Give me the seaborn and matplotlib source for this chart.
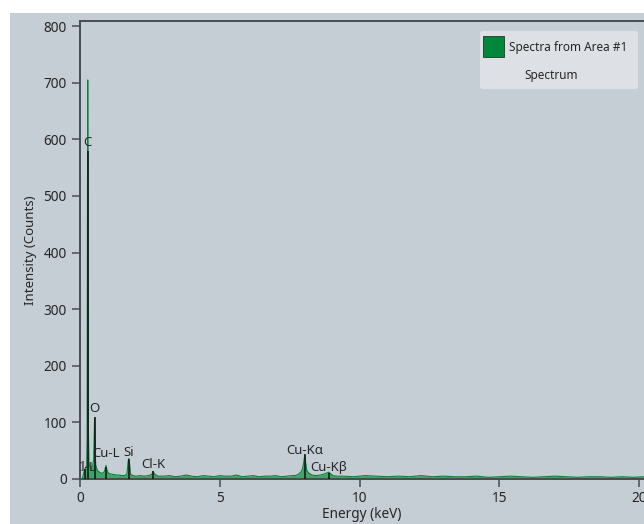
import matplotlib
matplotlib.use("Agg")
import matplotlib.pyplot as plt
from matplotlib.patches import Rectangle, FancyBboxPatch
import seaborn as sns
import pandas as pd

# EDS spectrum sampled along the energy axis (keV) and counts
energy_kev = [
    0.00, 0.08, 0.12, 0.16, 0.20, 0.24, 0.255, 0.265, 0.277, 0.29, 0.30, 0.315,
    0.35, 0.40, 0.45, 0.49, 0.515, 0.525, 0.54, 0.56, 0.62, 0.70, 0.78, 0.86,
    0.90, 0.93, 0.96, 1.02, 1.10, 1.20, 1.30, 1.40, 1.50, 1.60, 1.68, 1.72,
    1.74, 1.77, 1.81, 1.90, 2.00, 2.15, 2.30, 2.45, 2.56, 2.62, 2.68, 2.80,
    3.0, 3.2, 3.4, 3.6, 3.8, 4.0, 4.2, 4.4, 4.6, 4.8, 5.0, 5.2, 5.4, 5.6,
    5.8, 6.0, 6.2, 6.4, 6.6, 6.8, 7.0, 7.2, 7.4, 7.6, 7.7, 7.8, 7.9, 7.96,
    8.00, 8.04, 8.08, 8.12, 8.20, 8.30, 8.45, 8.60, 8.75, 8.85, 8.90, 8.95,
    9.05, 9.20, 9.4, 9.8, 10.2, 10.6, 11.0, 11.4, 11.8, 12.2, 12.6, 13.0,
    13.4, 13.8, 14.2, 14.6, 15.0, 15.4, 15.8, 16.2, 16.6, 17.0, 17.4, 17.8,
    18.2, 18.6, 19.0, 19.4, 19.8, 20.2,
]
counts = [
    0, 0, 8, 16, 20, 24, 80, 420, 705, 380, 90, 30,
    22, 20, 22, 35, 95, 108, 60, 25, 15, 12, 10, 12,
    18, 24, 16, 10, 9, 8, 7, 7, 6, 6, 9, 30,
    36, 28, 8, 6, 5, 6, 5, 6, 8, 13, 8, 5,
    5, 6, 4, 5, 7, 5, 4, 6, 5, 4, 6, 5, 5, 7,
    4, 5, 6, 4, 5, 5, 6, 4, 5, 6, 6, 8, 12, 18,
    28, 42, 26, 14, 10, 7, 6, 7, 9, 11, 12, 10,
    6, 5, 5, 4, 6, 5, 4, 5, 4, 6, 4, 5,
    4, 4, 5, 3, 4, 5, 4, 3, 4, 5, 4, 3,
    4, 4, 3, 4, 3, 4,
]

# Element markers: line energy, marker height, label height (counts)
element_names = ["Cl-L", "C", "O", "Cu-L", "Si", "Cl-K", "Cu-Kα", "Cu-Kβ"]
element_kev = [0.18, 0.277, 0.525, 0.93, 1.74, 2.62, 8.04, 8.90]
marker_top = [18, 580, 110, 22, 36, 14, 44, 11]
label_y = [21, 594, 125, 45, 46, 25, 50, 20]

x_ticks = [0, 5, 10, 15, 20]
y_ticks = [0, 100, 200, 300, 400, 500, 600, 700, 800]

legend_title = "Spectra from Area #1"
legend_sub = "Spectrum"

BG = "#c5cdd5"
GREEN = "#0b8238"
TEXT = "#262626"
SPINE = "#474c52"

sns.set_theme(style="ticks")
plt.rcParams["font.family"] = ["Noto Sans", "DejaVu Sans"]

W, H = 644, 524
fig = plt.figure(figsize=(W / 100, H / 100), dpi=100)
fig.patch.set_facecolor("white")
fig.patches.append(Rectangle((10 / W, 0), 1 - 10 / W, 1 - 13 / H,
                             transform=fig.transFigure, facecolor=BG,
                             edgecolor="none", zorder=-10))

ax_left, ax_right, ax_top, ax_bottom = 80, 644, 20.5, 479
ax = fig.add_axes([ax_left / W, (H - ax_bottom) / H,
                   (ax_right - ax_left) / W, (ax_bottom - ax_top) / H])
ax.set_facecolor(BG)

df = pd.DataFrame({"Energy (keV)": energy_kev, "Intensity (Counts)": counts})
ax.fill_between(df["Energy (keV)"], 0, df["Intensity (Counts)"],
                color="#1f9a4c", alpha=0.8, linewidth=0, zorder=2)
sns.lineplot(data=df, x="Energy (keV)", y="Intensity (Counts)", ax=ax,
             color=GREEN, linewidth=0.8, zorder=3)

ax.vlines(element_kev, 0, marker_top, colors="#111111", linewidth=1.1, zorder=4)
for name, e, ly in zip(element_names, element_kev, label_y):
    ax.text(e, ly, name, ha="center", va="center", fontsize=9.5,
            color=TEXT, zorder=5, clip_on=True)

ax.set_xlim(0, (ax_right - ax_left) / 27.95)
ax.set_ylim(0, 810)
ax.set_xticks(x_ticks)
ax.set_yticks(y_ticks)
ax.tick_params(axis="both", direction="out", length=5.5, width=1.1,
               color=SPINE, labelsize=9.8, labelcolor=TEXT, pad=4)
ax.tick_params(axis="x", pad=3.5)
ax.set_xlabel("Energy (keV)", fontsize=9.8, color=TEXT, labelpad=0.5)
ax.set_ylabel("Intensity (Counts)", fontsize=9.5, color=TEXT, labelpad=5)
for side in ["left", "bottom", "top"]:
    ax.spines[side].set_color(SPINE)
    ax.spines[side].set_linewidth(1.4)
    ax.spines[side].set_visible(True)
ax.spines["right"].set_visible(False)

# Legend panel in the upper right
def fx(px):
    return px / W

def fy(py):
    return 1 - py / H

fig.patches.append(FancyBboxPatch((fx(480), fy(89)), fx(638) - fx(480),
                                  fy(31) - fy(89),
                                  boxstyle="round,pad=0,rounding_size=0.004",
                                  transform=fig.transFigure,
                                  facecolor="#dde1e6", edgecolor="none",
                                  zorder=6))
fig.patches.append(Rectangle((fx(483), fy(57)), fx(504) - fx(483),
                             fy(36) - fy(57), transform=fig.transFigure,
                             facecolor="#00873a", edgecolor="#1f3a28",
                             linewidth=0.6, zorder=7))
fig.text(fx(509), fy(47.5), legend_title, ha="left", va="center",
         fontsize=8.5, color=TEXT, zorder=8)
fig.text(fx(551), fy(76), legend_sub, ha="center", va="center",
         fontsize=8.5, color=TEXT, zorder=8)

fig.savefig("out.png", dpi=100, facecolor=fig.get_facecolor())
